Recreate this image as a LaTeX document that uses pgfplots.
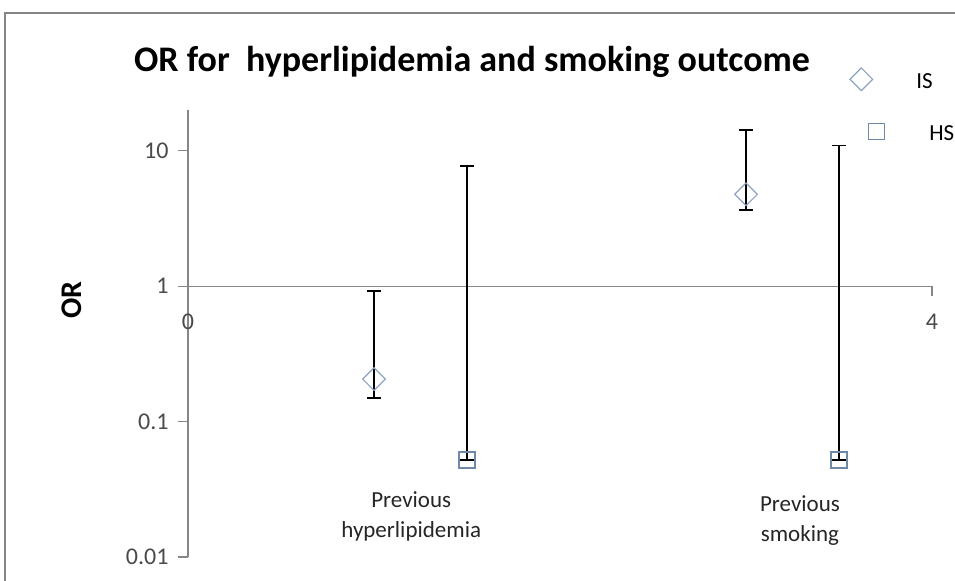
\documentclass[border=0pt]{standalone}
\usepackage{pgfplots}
\pgfplotsset{compat=1.18}
\usepackage{fontspec}
\setmainfont{Carlito}
\definecolor{axgray}{HTML}{868686}
\definecolor{ticktext}{HTML}{4A4A4A}
\definecolor{ismark}{HTML}{8EA3C2}
\definecolor{hsmark}{HTML}{6E8AA8}
\pgfplotsset{
  islegend/.style={legend image code/.code={\draw[##1] plot coordinates {(0bp,0bp)}; \path[draw=none,fill=none] (-8bp,-10bp) rectangle (55bp,10bp);}},
  hslegend/.style={legend image code/.code={\draw[##1] plot coordinates {(15bp,0bp)}; \path[draw=none,fill=none] (-8bp,-10bp) rectangle (55bp,10bp);}},
}
\begin{document}
\begin{tikzpicture}
\path[use as bounding box] (0bp,0bp) rectangle (955bp,581bp);
\clip (0bp,0bp) rectangle (955bp,581bp);
\draw[axgray, line width=1.2bp] (5bp,568bp) rectangle (1000bp,-20bp);
\node[font=\bfseries\fontsize{36bp}{40bp}\selectfont] at (472bp,519bp) {OR for\ \ hyperlipidemia and smoking outcome};
\node[font=\bfseries\fontsize{30bp}{34bp}\selectfont, rotate=90] at (72bp,281bp) {OR};
\begin{axis}[
  at={(188bp,24bp)}, anchor=south west, scale only axis,
  width=744bp, height=447bp,
  ymode=log, xmin=0, xmax=4, ymin=0.01, ymax=20,
  axis y line=left, axis x line=middle,
  axis line style={-, axgray, line width=1.2bp},
  xtick={0,4}, xticklabels={0,4},
  hide obscured x ticks=false,
  ytick={0.01,0.1,1,10}, yticklabels={0.01,0.1,1,10},
  minor tick style={draw=none}, minor tick num=0,
  tick align=outside, major tick length=10bp,
  tick style={axgray, line width=1.2bp},
  /pgf/number format/assume math mode=true,
  ticklabel style={font=\fontsize{24bp}{26bp}\selectfont, text=ticktext},
  xticklabel style={yshift=-14bp},
  yticklabel style={xshift=-6bp},
  clip=false,
  legend style={draw=none, fill=none, at={(axis description cs:0.8898,1.0940)}, anchor=north west,
    inner sep=0pt, outer sep=0pt, row sep=31bp, column sep=0pt,
    font=\fontsize{23bp}{26bp}\selectfont, nodes={inner sep=0pt, outer sep=0pt}},
  legend cell align=left,
]
\addplot[only marks, mark=square, mark size=8bp, mark options={ismark, rotate=45, line width=1.2bp, fill=none}, islegend,
  error bars/.cd, y dir=both, y explicit,
  error bar style={black, line width=1.5bp},
  error mark options={black, rotate=90, mark size=7bp, line width=1.5bp}]
  table[x=x, y=y, y error plus=ep, y error minus=em] {
x y ep em
1 0.206 0.717 0.057
3 4.77 9.5 1.13
};
\addlegendentry{\raisebox{-4bp}{IS}}
\addplot[only marks, mark=square, mark size=8bp, mark options={hsmark, line width=1.2bp, fill=none}, hslegend,
  error bars/.cd, y dir=both, y explicit,
  error bar style={black, line width=1.5bp},
  error mark options={black, rotate=90, mark size=7bp, line width=1.5bp}]
  table[x=x, y=y, y error plus=ep, y error minus=em] {
x y ep em
1.5 0.052 7.68 0
3.5 0.052 10.85 0
};
\addlegendentry{\hspace*{13bp}\raisebox{-4bp}{HS}}
\node[align=center, font=\fontsize{23bp}{30bp}\selectfont, text=black!85] at (axis cs:1.2,0.0198) {Previous\\hyperlipidemia};
\node[align=center, font=\fontsize{23bp}{30bp}\selectfont, text=black!85] at (axis cs:3.29,0.0185) {Previous\\smoking};
\end{axis}
\end{tikzpicture}
\end{document}
